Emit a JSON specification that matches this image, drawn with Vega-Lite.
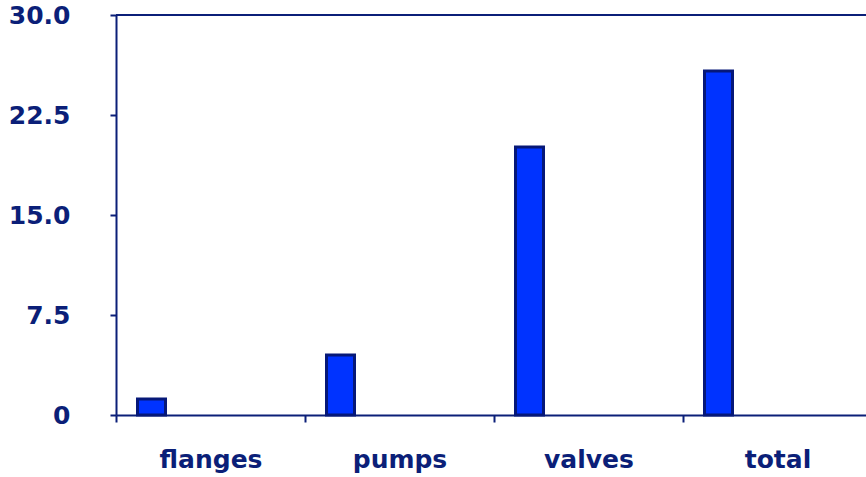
{
  "$schema": "https://vega.github.io/schema/vega-lite/v6.json",
  "width": 756,
  "height": 400,
  "autosize": {"type": "none"},
  "padding": {"left": 116, "top": 15, "right": 0, "bottom": 62},
  "background": "white",
  "config": {
    "view": {"stroke": null},
    "axis": {
      "labelFont": "DejaVu Sans",
      "labelFontWeight": "bold",
      "labelFontSize": 25,
      "labelColor": "#0b1f78",
      "domainColor": "#0b1f78",
      "domainWidth": 2,
      "tickColor": "#0b1f78",
      "tickWidth": 2,
      "grid": false,
      "title": null
    }
  },
  "data": {
    "values": [
      {"item": "flanges", "value": 1.2},
      {"item": "pumps", "value": 4.5},
      {"item": "valves", "value": 20.1},
      {"item": "total", "value": 25.8}
    ]
  },
  "layer": [
    {
      "mark": {"type": "bar", "color": "#0033ff", "stroke": "#061878", "strokeWidth": 3, "width": 28, "xOffset": -59},
      "encoding": {
        "x": {
          "field": "item", "type": "nominal", "sort": null,
          "scale": {"paddingInner": 0, "paddingOuter": 0},
          "axis": {"labelAngle": 0, "tickBand": "extent", "tickSize": 7, "labelPadding": 25}
        },
        "y": {
          "field": "value", "type": "quantitative",
          "scale": {"domain": [0, 30], "nice": false},
          "axis": {"values": [0, 7.5, 15, 22.5, 30], "labelExpr": "datum.value == 0 ? '0' : format(datum.value, '.1f')", "tickSize": 6, "labelPadding": 40}
        }
      }
    },
    {
      "mark": {"type": "rule", "color": "#0b1f78", "strokeWidth": 2},
      "encoding": {"y": {"datum": 30}}
    }
  ]
}
